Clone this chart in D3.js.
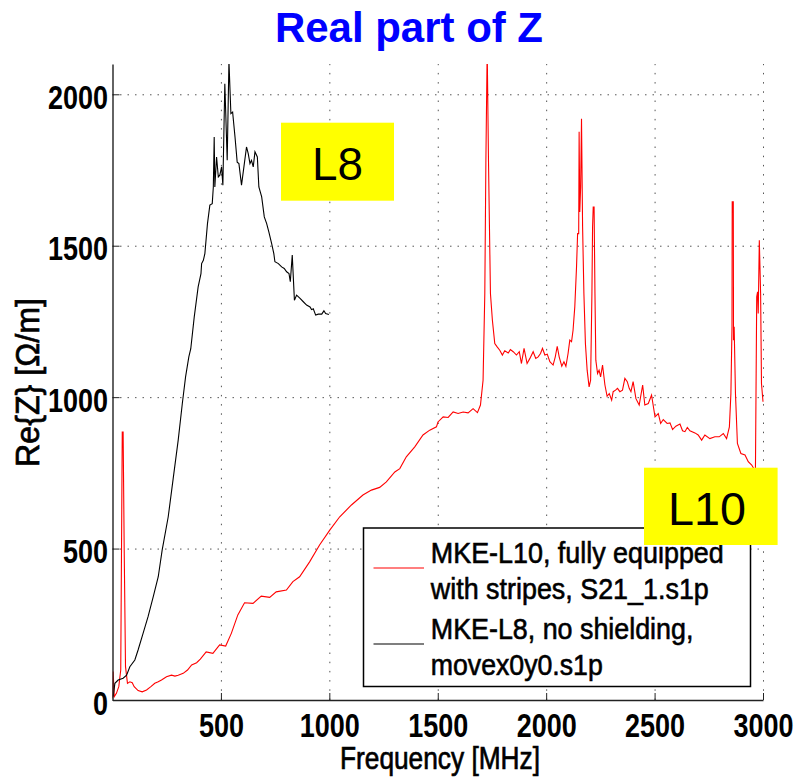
<!DOCTYPE html>
<html>
<head>
<meta charset="utf-8">
<script src="https://cdn.jsdelivr.net/npm/d3@7"></script>
<style>
  body { margin: 0; background: #fff; }
  svg { display: block; font-family: "Liberation Sans", Arial, sans-serif; }
</style>
</head>
<body>
<svg id="chart"></svg>
<script>
// MKE-L10 (red), MHz / Ohm per m
const l10Freq = [0, 3, 8, 18, 29, 38, 45, 49, 54, 60, 69, 80, 91, 100, 118, 137, 157, 177, 195, 211, 226, 249, 272, 288, 303, 326, 346, 365, 388, 405, 432, 463, 494, 522, 548, 578, 609, 648, 686, 725, 755, 802, 832, 863, 909, 955, 1002, 1048, 1102, 1155, 1194, 1232, 1263, 1302, 1325, 1355, 1394, 1432, 1463, 1494, 1501, 1525, 1548, 1571, 1594, 1617, 1640, 1663, 1683, 1697, 1709, 1717, 1722, 1728, 1734, 1743, 1752, 1763, 1774, 1786, 1798, 1809, 1825, 1835, 1848, 1863, 1876, 1886, 1898, 1912, 1925, 1940, 1952, 1963, 1974, 1983, 1994, 2005, 2017, 2032, 2042, 2051, 2060, 2072, 2082, 2091, 2101, 2109, 2117, 2124, 2132, 2140, 2145, 2150, 2152, 2155, 2159, 2163, 2168, 2174, 2181, 2189, 2198, 2205, 2211, 2214, 2217, 2221, 2225, 2229, 2237, 2244, 2251, 2260, 2271, 2281, 2291, 2302, 2309, 2320, 2329, 2340, 2352, 2363, 2374, 2383, 2391, 2401, 2414, 2429, 2445, 2455, 2471, 2486, 2502, 2517, 2528, 2540, 2558, 2571, 2583, 2598, 2617, 2629, 2640, 2651, 2663, 2686, 2701, 2717, 2732, 2755, 2778, 2798, 2817, 2832, 2845, 2852, 2857, 2858, 2863, 2864, 2867, 2873, 2882, 2898, 2917, 2932, 2948, 2958, 2965, 2971, 2975, 2978, 2983, 2989, 2993, 3000];
const l10Re = [6, 94, 11, 22, 44, 99, 885, 885, 495, 110, 55, 60, 57, 44, 31, 27, 33, 44, 55, 60, 66, 77, 82, 79, 82, 88, 99, 116, 123, 135, 159, 154, 182, 178, 220, 281, 321, 319, 343, 339, 357, 363, 391, 407, 456, 512, 561, 605, 644, 677, 693, 702, 720, 753, 764, 803, 836, 875, 891, 902, 918, 935, 933, 951, 946, 951, 948, 962, 949, 974, 1056, 1342, 1782, 2150, 1782, 1342, 1254, 1177, 1166, 1155, 1139, 1153, 1146, 1157, 1150, 1139, 1150, 1111, 1161, 1111, 1128, 1150, 1128, 1133, 1144, 1161, 1139, 1142, 1117, 1106, 1133, 1168, 1133, 1102, 1117, 1102, 1144, 1188, 1183, 1221, 1298, 1430, 1540, 1540, 1876, 1611, 1694, 1919, 1562, 1342, 1177, 1089, 1034, 1056, 1342, 1562, 1628, 1628, 1342, 1122, 1078, 1089, 1067, 1106, 1040, 1003, 1012, 990, 1018, 1023, 1029, 1018, 1023, 1062, 1051, 1029, 1018, 1051, 995, 974, 1040, 974, 979, 1007, 935, 946, 913, 926, 913, 915, 893, 904, 911, 889, 886, 900, 889, 882, 875, 858, 875, 863, 869, 869, 880, 863, 902, 1012, 1232, 1645, 1645, 1188, 1232, 1012, 847, 814, 809, 787, 776, 764, 745, 1331, 1348, 1276, 1518, 1342, 1045, 985];

// MKE-L8 (black)
const l8Freq = [3, 11, 26, 49, 65, 80, 103, 118, 141, 164, 188, 211, 229, 257, 280, 303, 322, 337, 352, 361, 377, 395, 408, 411, 419, 426, 438, 449, 460, 465, 469, 472, 480, 488, 495, 503, 509, 518, 529, 537, 546, 554, 565, 575, 583, 595, 608, 618, 626, 634, 641, 649, 657, 668, 675, 688, 700, 711, 721, 734, 744, 749, 765, 780, 792, 803, 814, 820, 829, 839, 849, 865, 880, 895, 911, 918, 926, 937, 949, 965, 975, 983, 998];
const l8Re = [11, 55, 66, 72, 82, 110, 132, 165, 220, 275, 341, 407, 495, 605, 732, 858, 979, 1067, 1133, 1160, 1265, 1364, 1408, 1441, 1452, 1474, 1573, 1634, 1639, 1694, 1859, 1694, 1793, 1727, 1733, 1760, 1700, 2035, 1782, 2110, 1936, 1941, 1859, 1776, 1771, 1700, 1771, 1826, 1804, 1771, 1782, 1760, 1810, 1793, 1694, 1661, 1595, 1573, 1546, 1507, 1474, 1447, 1441, 1430, 1425, 1414, 1408, 1381, 1469, 1320, 1337, 1326, 1315, 1304, 1298, 1289, 1292, 1271, 1274, 1274, 1285, 1276, 1273];

const xTicks = [500, 1000, 1500, 2000, 2500, 3000];
const yTicks = [0, 500, 1000, 1500, 2000];
const legendLabels = [
  ["MKE-L10, fully equipped", "with stripes, S21_1.s1p"],
  ["MKE-L8, no shielding,", "movex0y0.s1p"]
];
const legendColors = ["#ff0000", "#000000"];

const width = 797;
const height = 779;
const margin = { top: 64, right: 34, bottom: 79, left: 112.5 };
const innerWidth = width - margin.left - margin.right;
const innerHeight = height - margin.top - margin.bottom;

const svg = d3.select("#chart").attr("width", width).attr("height", height);

const x = d3.scaleLinear().domain([0, 3000]).range([0, innerWidth]);
const y = d3.scaleLinear().domain([0, 2100]).range([innerHeight, 0]);

const g = svg.append("g").attr("transform", `translate(${margin.left},${margin.top})`);

// dotted grid
g.append("g")
  .attr("class", "grid")
  .call(d3.axisLeft(y).tickValues(yTicks.slice(1)).tickSize(-innerWidth).tickFormat(""))
  .call(s => s.select(".domain").remove())
  .call(s => s.selectAll("text").remove())
  .selectAll("line")
  .attr("stroke", "#555")
  .attr("stroke-dasharray", "1.5,6");

g.append("g")
  .attr("class", "grid")
  .attr("transform", `translate(0,${innerHeight})`)
  .call(d3.axisBottom(x).tickValues(xTicks).tickSize(-innerHeight).tickFormat(""))
  .call(s => s.select(".domain").remove())
  .call(s => s.selectAll("text").remove())
  .selectAll("line")
  .attr("stroke", "#555")
  .attr("stroke-dasharray", "1.5,7.7");

g.append("clipPath").attr("id", "plot-clip")
  .append("rect").attr("width", innerWidth + 2).attr("height", innerHeight);

const line = d3.line().x(d => x(d[0])).y(d => y(d[1]));

g.append("path")
  .datum(d3.zip(l10Freq, l10Re))
  .attr("clip-path", "url(#plot-clip)")
  .attr("fill", "none")
  .attr("stroke", legendColors[0])
  .attr("stroke-width", 1.1)
  .attr("d", line);

g.append("path")
  .datum(d3.zip(l8Freq, l8Re))
  .attr("clip-path", "url(#plot-clip)")
  .attr("fill", "none")
  .attr("stroke", legendColors[1])
  .attr("stroke-width", 1.1)
  .attr("d", line);

// axes
const fmt = d3.format("d");
const yAxis = g.append("g")
  .call(d3.axisLeft(y).tickValues(yTicks).tickFormat(fmt).tickSize(-7).tickSizeOuter(0).tickPadding(4.5));
yAxis.selectAll("text")
  .attr("dy", 14)
  .attr("font-size", 33)
  .attr("font-weight", "bold")
  .attr("fill", "#000")
  .attr("textLength", d => fmt(d).length * 15)
  .attr("lengthAdjust", "spacingAndGlyphs");

const xAxis = g.append("g")
  .attr("transform", `translate(0,${innerHeight})`)
  .call(d3.axisBottom(x).tickValues(xTicks).tickFormat(fmt).tickSize(-7).tickSizeOuter(0));
xAxis.selectAll("text")
  .attr("y", 0)
  .attr("dy", 37)
  .attr("font-size", 33)
  .attr("font-weight", "bold")
  .attr("fill", "#000")
  .attr("textLength", d => fmt(d).length * 15)
  .attr("lengthAdjust", "spacingAndGlyphs");

[yAxis, xAxis].forEach(a => {
  a.select(".domain").attr("stroke", "#222").attr("stroke-width", 1.4);
  a.selectAll(".tick line").attr("stroke", "#222");
});

// labels
svg.append("text")
  .attr("x", 409).attr("y", 41.5)
  .attr("text-anchor", "middle")
  .attr("font-size", 42).attr("font-weight", "bold")
  .attr("fill", "#0000ff")
  .attr("textLength", 268).attr("lengthAdjust", "spacingAndGlyphs")
  .text("Real part of Z");

svg.append("text")
  .attr("x", 440).attr("y", 769)
  .attr("text-anchor", "middle")
  .attr("font-size", 32)
  .attr("stroke", "#000").attr("stroke-width", 0.7)
  .attr("textLength", 200).attr("lengthAdjust", "spacingAndGlyphs")
  .text("Frequency [MHz]");

svg.append("text")
  .attr("transform", "translate(39,382.5) rotate(-90)")
  .attr("text-anchor", "middle")
  .attr("font-size", 34)
  .attr("stroke", "#000").attr("stroke-width", 0.7)
  .attr("textLength", 169).attr("lengthAdjust", "spacingAndGlyphs")
  .text("Re{Z} [\u03A9/m]");

// legend
const legend = svg.append("g").attr("transform", "translate(363.5,528)");
legend.append("rect")
  .attr("width", 387).attr("height", 158.5)
  .attr("fill", "#fff").attr("stroke", "#000").attr("stroke-width", 1.5);

const legendWidths = [[293, 278], [262.6, 172]];
legendLabels.forEach((lines, i) => {
  const row = legend.append("g").attr("transform", `translate(0,${i * 76})`);
  row.append("line")
    .attr("x1", 10).attr("x2", 60.5)
    .attr("y1", 40).attr("y2", 40)
    .attr("stroke", legendColors[i]).attr("stroke-width", 1.2);
  lines.forEach((t, j) => {
    row.append("text")
      .attr("x", 67.3).attr("y", 35 + j * 36)
      .attr("font-size", 29)
      .attr("stroke", "#000").attr("stroke-width", 0.6)
      .attr("textLength", legendWidths[i][j]).attr("lengthAdjust", "spacingAndGlyphs")
      .text(t);
  });
});

// yellow tags
const tags = [
  { label: "L8", x: 281, y: 122.7, w: 113, h: 78, tx: 312, ty: 180, tw: 51 },
  { label: "L10", x: 644, y: 467.7, w: 133.6, h: 77.3, tx: 668, ty: 525, tw: 78 }
];
tags.forEach(t => {
  svg.append("rect")
    .attr("x", t.x).attr("y", t.y).attr("width", t.w).attr("height", t.h)
    .attr("fill", "#ffff00");
  svg.append("text")
    .attr("x", t.tx).attr("y", t.ty)
    .attr("font-size", 47)
    .attr("textLength", t.tw).attr("lengthAdjust", "spacingAndGlyphs")
    .text(t.label);
});
</script>
</body>
</html>
